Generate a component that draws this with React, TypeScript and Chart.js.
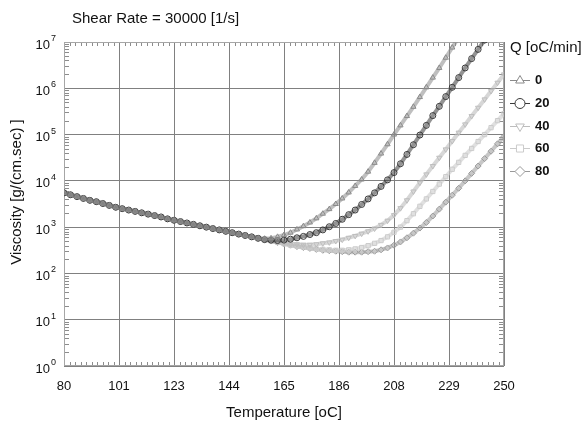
import { useEffect, useRef } from "react";
import { Chart, registerables } from "chart.js";
import { drawPoint } from "chart.js/helpers";

Chart.register(...registerables);

const chartTitle = "Shear Rate = 30000 [1/s]";
const xAxisTitle = "Temperature [oC]";
const yAxisTitle = "Viscosity [g/(cm.sec) ]";
const legendTitle = "Q [oC/min]";

const temperatures = [
  80, 82.5, 85, 87.5, 90, 92.5, 95, 97.5, 100, 102.5, 105, 107.5, 110, 112.5, 115, 117.5,
  120, 122.5, 125, 127.5, 130, 132.5, 135, 137.5, 140, 142.5, 145, 147.5, 150, 152.5, 155,
  157.5, 160, 162.5, 165, 167.5, 170, 172.5, 175, 177.5, 180, 182.5, 185, 187.5, 190, 192.5,
  195, 197.5, 200, 202.5, 205, 207.5, 210, 212.5, 215, 217.5, 220, 222.5, 225, 227.5, 230,
  232.5, 235, 237.5, 240, 242.5, 245, 247.5, 250,
];

const xTickValues = [80, 101.25, 122.5, 143.75, 165, 186.25, 207.5, 228.75, 250];
const xTickLabels = ["80", "101", "123", "144", "165", "186", "208", "229", "250"];
const yTickValues = [1, 10, 100, 1000, 10000, 100000, 1000000, 10000000];
const yTickExponents = ["0", "1", "2", "3", "4", "5", "6", "7"];

// 80 .. 155 °C : all heating rates coincide
const sharedViscosity = [
  5500, 5010, 4570, 4170, 3800, 3550, 3240, 2950, 2690, 2510, 2340, 2190, 2040, 1910, 1780,
  1660, 1510, 1410, 1320, 1230, 1150, 1070, 1000, 933, 871, 813, 759, 708, 661, 617, 575,
];

// 157.5 .. 250 °C
const viscQ0 = [
  562, 575, 617, 676, 759, 891, 1050, 1260, 1550, 1950, 2450, 3160, 4170, 5620, 7760, 10700,
  15800, 24500, 38900, 61700, 100000, 158000, 251000, 398000, 646000, 1050000, 1700000,
  2750000, 4570000, 7590000, 12600000, null, null, null, null, null, null, null,
];
const viscQ20 = [
  537, 525, 513, 525, 550, 589, 631, 692, 759, 871, 1020, 1200, 1480, 1860, 2340, 3090, 4070,
  5500, 7590, 10500, 15100, 23400, 37200, 60300, 97700, 158000, 257000, 407000, 661000,
  1050000, 1700000, 2750000, 4370000, 6920000, 11000000, null, null, null,
];
const viscQ40 = [
  537, 501, 468, 447, 437, 427, 417, 417, 427, 447, 468, 501, 537, 589, 646, 724, 813, 933,
  1120, 1380, 1820, 2570, 3800, 5890, 9120, 13800, 20900, 31600, 47900, 72400, 110000, 166000,
  251000, 380000, 575000, 871000, 1320000, 2000000,
];
const viscQ60 = [
  537, 501, 468, 437, 407, 389, 372, 355, 339, 331, 324, 316, 316, 324, 339, 363, 398, 447,
  513, 617, 776, 1000, 1380, 1950, 2820, 4070, 5890, 8510, 12300, 17800, 25100, 35500, 50100,
  70800, 100000, 141000, 200000, 282000,
];
const viscQ80 = [
  537, 501, 468, 437, 407, 380, 363, 347, 331, 316, 309, 302, 295, 288, 288, 288, 295, 302,
  324, 355, 407, 479, 589, 741, 955, 1260, 1740, 2450, 3470, 4900, 6920, 10000, 14500, 20900,
  30200, 43700, 63100, 91200,
];

const seriesLabels = ["0", "20", "40", "60", "80"];
const seriesValues = [viscQ0, viscQ20, viscQ40, viscQ60, viscQ80];
const seriesColors = ["#8a8a8a", "#3a3a3a", "#bdbdbd", "#cbcbcb", "#999999"];
const seriesBandColors = [
  "rgba(138,138,138,0.55)",
  "rgba(58,58,58,0.55)",
  "rgba(189,189,189,0.6)",
  "rgba(203,203,203,0.6)",
  "rgba(153,153,153,0.55)",
];
const seriesPointStyles = ["triangle", "circle", "triangle", "rect", "rectRot"];
const seriesPointRotations = [0, 0, 180, 0, 0];

const FONT = "'Liberation Sans', Arial, sans-serif";

const decorPlugin = {
  id: "decor",
  beforeDatasetsDraw(chart: any) {
    const { ctx, chartArea: a, scales } = chart;
    const xs = scales.x;
    const ys = scales.y;
    ctx.save();
    ctx.strokeStyle = "#8c8c8c";
    ctx.lineWidth = 1;
    ctx.beginPath();
    for (let i = 0; i < xTickValues.length - 1; i++) {
      const step = (xTickValues[i + 1] - xTickValues[i]) / 10;
      for (let j = 1; j < 10; j++) {
        const px = Math.round(xs.getPixelForValue(xTickValues[i] + j * step)) + 0.5;
        ctx.moveTo(px, a.top);
        ctx.lineTo(px, a.top + 4);
        ctx.moveTo(px, a.bottom);
        ctx.lineTo(px, a.bottom - 4);
      }
    }
    for (let k = 0; k < yTickValues.length - 1; k++) {
      for (let m = 2; m < 10; m++) {
        const py = Math.round(ys.getPixelForValue(m * yTickValues[k])) + 0.5;
        ctx.moveTo(a.left, py);
        ctx.lineTo(a.left + 5, py);
        ctx.moveTo(a.right, py);
        ctx.lineTo(a.right - 5, py);
      }
    }
    ctx.stroke();
    ctx.strokeStyle = "#a6a6a6";
    ctx.lineWidth = 1;
    ctx.strokeRect(a.left + 0.5, a.top + 0.5, a.right - a.left - 1, a.bottom - a.top - 1);
    ctx.restore();
  },
  afterDraw(chart: any) {
    const { ctx, chartArea: a, scales } = chart;
    const ys = scales.y;
    ctx.save();
    ctx.fillStyle = "#111";
    ctx.font = `15px ${FONT}`;
    ctx.textAlign = "left";
    ctx.textBaseline = "middle";
    ctx.fillText(chartTitle, a.left + 8, 19);
    ctx.textAlign = "center";
    ctx.fillText(xAxisTitle, (a.left + a.right) / 2, 413);
    ctx.save();
    ctx.translate(17, 192);
    ctx.rotate(-Math.PI / 2);
    ctx.fillText(yAxisTitle, 0, 0);
    ctx.restore();
    yTickValues.forEach((v, i) => {
      const py = ys.getPixelForValue(v);
      ctx.font = `13px ${FONT}`;
      ctx.textAlign = "right";
      ctx.textBaseline = "middle";
      ctx.fillText("10", a.left - 14, py + 3);
      ctx.font = `9px ${FONT}`;
      ctx.textAlign = "left";
      ctx.textBaseline = "alphabetic";
      ctx.fillText(yTickExponents[i], a.left - 13, py - 1);
    });
    const lx = a.right + 6;
    ctx.font = `15px ${FONT}`;
    ctx.textAlign = "left";
    ctx.textBaseline = "middle";
    ctx.fillText(legendTitle, lx, 48);
    seriesLabels.forEach((lab, i) => {
      const ly = Math.round(80 + i * 22.75) + 0.5;
      ctx.strokeStyle = seriesColors[i];
      ctx.lineWidth = 1;
      ctx.beginPath();
      ctx.moveTo(lx, ly);
      ctx.lineTo(lx + 20, ly);
      ctx.stroke();
      ctx.fillStyle = "#fff";
      drawPoint(
        ctx,
        {
          pointStyle: seriesPointStyles[i],
          rotation: seriesPointRotations[i],
          radius: 5,
          borderWidth: 1,
        } as any,
        lx + 10,
        ly
      );
      ctx.fillStyle = "#111";
      ctx.font = `bold 13px ${FONT}`;
      ctx.fillText(lab, lx + 25, ly);
    });
    ctx.restore();
  },
};

export default function App() {
  const canvasRef = useRef<HTMLCanvasElement | null>(null);

  useEffect(() => {
    document.body.style.margin = "0";
    const canvas = canvasRef.current;
    if (!canvas) return;
    const nShared = sharedViscosity.length;
    const datasets = seriesLabels.map((label, s) => ({
      label,
      data: temperatures.map((t, i) => ({
        x: t,
        y: i < nShared ? sharedViscosity[i] : seriesValues[s][i - nShared],
      })),
      borderColor: seriesBandColors[s],
      backgroundColor: "rgba(255,255,255,0)",
      borderWidth: 4,
      pointStyle: seriesPointStyles[s],
      pointRotation: seriesPointRotations[s],
      pointRadius: 3,
      pointBorderWidth: 1,
      pointBorderColor: seriesColors[s],
      pointBackgroundColor: "rgba(255,255,255,0)",
      tension: 0,
      spanGaps: false,
    }));

    const chart = new Chart(canvas, {
      type: "line",
      data: { datasets },
      plugins: [decorPlugin],
      options: {
        animation: false,
        responsive: true,
        maintainAspectRatio: false,
        layout: { padding: { left: 0, top: 42, right: 79, bottom: 0 } },
        plugins: {
          legend: { display: false },
          title: { display: false },
          tooltip: { enabled: false },
        },
        scales: {
          x: {
            type: "linear",
            min: 80,
            max: 250,
            afterBuildTicks: (scale: any) => {
              scale.ticks = xTickValues.map((v) => ({ value: v }));
            },
            afterFit: (scale: any) => {
              scale.height = 57;
            },
            ticks: {
              padding: 13,
              maxRotation: 0,
              autoSkip: false,
              color: "#111",
              font: { family: FONT, size: 13 },
              callback: (_v: any, i: number) => xTickLabels[i],
            },
            grid: { color: "#808080", lineWidth: 1, drawTicks: false },
            border: { display: false },
          },
          y: {
            type: "logarithmic",
            min: 1,
            max: 10000000,
            afterBuildTicks: (scale: any) => {
              scale.ticks = yTickValues.map((v) => ({ value: v }));
            },
            afterFit: (scale: any) => {
              scale.width = 64;
            },
            ticks: { display: false },
            grid: { color: "#808080", lineWidth: 1, drawTicks: false },
            border: { display: false },
          },
        },
      } as any,
    });
    return () => chart.destroy();
  }, []);

  return (
    <div style={{ width: 583, height: 423, position: "relative", background: "#fff" }}>
      <canvas ref={canvasRef} />
    </div>
  );
}
